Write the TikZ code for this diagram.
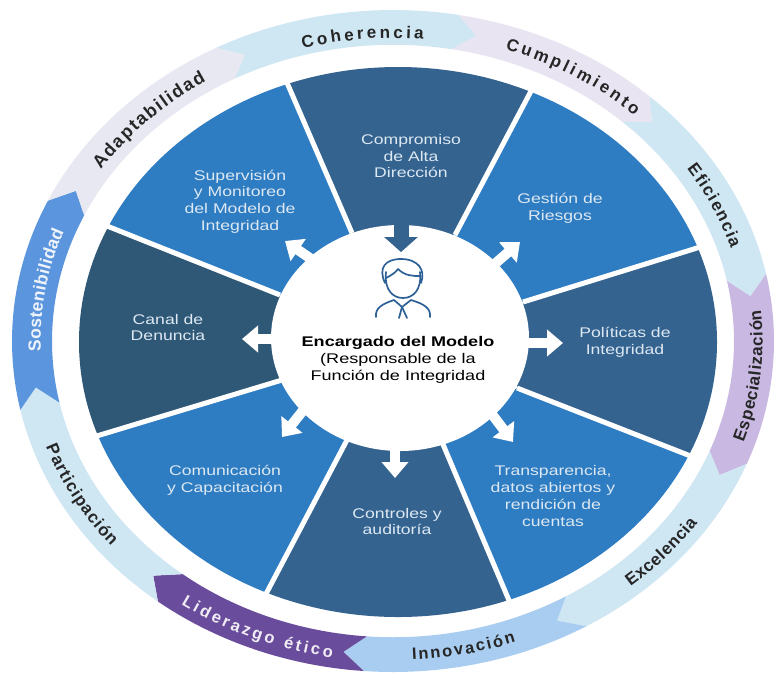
\documentclass[tikz,border=0pt]{standalone}
\usepackage{fontspec}
\setmainfont{Liberation Sans}
\usetikzlibrary{arrows.meta,decorations.text,calc}
\definecolor{secdark}{HTML}{35638F}
\definecolor{secmid}{HTML}{2E7CC2}
\definecolor{secdeep}{HTML}{2F5877}
\definecolor{sectxt}{HTML}{DCE8F2}
\definecolor{ringA}{HTML}{CFE6F3}
\definecolor{ringB}{HTML}{E8E4F2}
\definecolor{ringC}{HTML}{C9B9E2}
\definecolor{ringD}{HTML}{A9CDF1}
\definecolor{ringE}{HTML}{6A4C9C}
\definecolor{ringF}{HTML}{5B95DD}
\definecolor{ringG}{HTML}{E7E8F1}
\definecolor{iconc}{HTML}{2D6096}
\tikzset{
  sectext/.style={text=sectxt,align=center,font=\fontsize{14}{16.8}\selectfont,xscale=1.26,inner sep=0pt},
  blockarrow/.style={line width=10pt,white,-{Triangle[width=26pt,length=16pt]}},
  seam/.style={white,line width=5pt},
  iconline/.style={iconc,line width=1.7pt,line cap=round,line join=round},
}
% ring segment: tail angle (tip of the previous one), tip angle, colour
\newcommand{\ringseg}[3]{%
  \pgfmathsetmacro{\shoulder}{#2+3.5}
  \pgfmathsetmacro{\tailc}{#1+3.5}
  \fill[#3] plot[domain=\tailc:\shoulder,samples=40] ({393+381*cos(\x)},{341-331*sin(\x)})
    -- ({393+381*0.948*cos(#2)},{341-331*0.948*sin(#2)})
    -- plot[domain=\shoulder:\tailc,samples=40] ({393+381*0.895*cos(\x)},{341-331*0.895*sin(\x)})
    -- ({393+381*0.948*cos(#1)},{341-331*0.948*sin(#1)}) -- cycle;}
% curved label: start angle, end angle, radius factor, text, colour, size
\newcommand{\ringtext}[6]{%
  \path[decorate,decoration={text along path,text align={fit to path},
     text={|\fontsize{#6}{#6}\selectfont\bfseries\color{#5}|#4}}]
     plot[domain=#1:#2,samples=40] ({393+381*#3*cos(\x)},{341-331*#3*sin(\x)});}
\begin{document}
\begin{tikzpicture}[x=1pt,y=-1pt]
\useasboundingbox (0,0) rectangle (775,673);
\fill[white] (0,0) rectangle (775,673);
% outer ring
\ringseg{114.2}{76.6}{ringA}
\ringseg{76.6}{44.2}{ringB}
\ringseg{44.2}{8.2}{ringA}
\ringseg{8.2}{-25.3}{ringC}
\ringseg{-25.3}{-63}{ringA}
\ringseg{-63}{-97.9}{ringD}
\ringseg{-97.9}{-131.6}{ringE}
\ringseg{-131.6}{-171.5}{ringA}
\ringseg{188.5}{151.4}{ringF}
\ringseg{151.4}{114.2}{ringG}
\ringtext{105}{85}{0.915}{Coherencia}{black!85}{17}
\ringtext{71.5}{47}{0.93}{Cumplimiento}{black!85}{17}
\ringtext{34}{17.5}{0.93}{Eficiencia}{black!85}{17}
\ringtext{-18.4}{5.6}{0.97}{Especialización}{black!85}{17}
\ringtext{-50}{-34.5}{0.97}{Excelencia}{black!85}{17}
\ringtext{-87}{-70.5}{0.965}{Innovación}{black!85}{16.5}
\ringtext{-125}{-99.5}{0.97}{Liderazgo ético}{white!90!ringE}{16.5}
\ringtext{-160.7}{-140}{0.965}{Participación}{black!85}{17}
\ringtext{182}{159}{0.925}{Sostenibilidad}{white!90!ringF}{17.5}
\ringtext{146}{122}{0.925}{Adaptabilidad}{black!85}{18}
% separators: inner and outer ends
\coordinate (s1i) at (352,233); \coordinate (s1o) at (288,85);
\coordinate (s2i) at (455,235); \coordinate (s2o) at (530,93);
\coordinate (s3i) at (523,302); \coordinate (s3o) at (697,248);
\coordinate (s4i) at (517,388); \coordinate (s4o) at (688,455);
\coordinate (s5i) at (442,442); \coordinate (s5o) at (508,598);
\coordinate (s6i) at (347,440); \coordinate (s6o) at (267,592);
\coordinate (s7i) at (282,380); \coordinate (s7o) at (100,435);
\coordinate (s8i) at (280,295); \coordinate (s8o) at (112,228);
\foreach \k in {1,...,8} \coordinate (e\k) at ($(s\k i)!1.3!(s\k o)$);
% wheel sectors
\begin{scope}
\clip (398,342) ellipse [x radius=319,y radius=275];
\fill[secdark] (s1i) -- (e1) -- (400,-30) -- (e2) -- (s2i) -- cycle;
\fill[secmid] (s2i) -- (e2) -- (780,60) -- (e3) -- (s3i) -- cycle;
\fill[secdark] (s3i) -- (e3) -- (800,340) -- (e4) -- (s4i) -- cycle;
\fill[secmid] (s4i) -- (e4) -- (720,680) -- (e5) -- (s5i) -- cycle;
\fill[secdark] (s5i) -- (e5) -- (400,720) -- (e6) -- (s6i) -- cycle;
\fill[secmid] (s6i) -- (e6) -- (60,680) -- (e7) -- (s7i) -- cycle;
\fill[secdeep] (s7i) -- (e7) -- (0,340) -- (e8) -- (s8i) -- cycle;
\fill[secmid] (s8i) -- (e8) -- (60,20) -- (e1) -- (s1i) -- cycle;
\end{scope}
\foreach \k in {1,...,8} \draw[seam] (s\k i) -- ($(s\k i)!1.03!(s\k o)$);
% hub
\fill[white] (400,338) ellipse [x radius=129,y radius=113];
% arrows
\coordinate (a1a) at (401,222); \coordinate (a1b) at (401,252);
\coordinate (a2a) at (320,265); \coordinate (a2b) at (285,241);
\coordinate (a3a) at (490,268); \coordinate (a3b) at (520,242);
\coordinate (a4a) at (515,343); \coordinate (a4b) at (563,343);
\coordinate (a5a) at (485,405); \coordinate (a5b) at (513,442);
\coordinate (a6a) at (395,430); \coordinate (a6b) at (395,478);
\coordinate (a7a) at (305,408); \coordinate (a7b) at (282,437);
\coordinate (a8a) at (290,339); \coordinate (a8b) at (242,339);
\draw[line width=15pt,secdark,-{Triangle[width=33pt,length=15pt]}] (a1a) -- (a1b);
\foreach \k in {2,3,4,5,6,7,8} \draw[blockarrow] (a\k a) -- (a\k b);
% person icon
\draw[iconline] (385,283) .. controls (378,268) and (385,259) .. (401,259)
   .. controls (418,259) and (426,270) .. (421,283);
\draw[iconline] (386,278) .. controls (392,275) and (396,272) .. (398,269)
   .. controls (405,276) and (413,276) .. (420,276);
\draw[iconline] (386,272) .. controls (384,290) and (393,298) .. (403,298)
   .. controls (413,298) and (422,290) .. (420,272);
\draw[iconline] (376,317) .. controls (375,308) and (382,304) .. (394,300) -- (402,307) -- (411,300)
   .. controls (424,304) and (431,308) .. (430,317);
\draw[iconline] (402,307) -- (399,318);
\draw[iconline] (402,307) -- (407,318);
% texts
\node[inner sep=0pt,align=center,xscale=1.29,text=black,font=\fontsize{14}{17}\selectfont] (hub) at (398,360)
  {\textbf{Encargado del Modelo}\\(Responsable de la\\Función de Integridad};
\node[sectext] (t1) at (411,156) {Compromiso\\de Alta\\Dirección};
\node[sectext] (t2) at (560,208.5) {Gestión de\\Riesgos};
\node[sectext] (t3) at (625,342.5) {Políticas de\\Integridad};
\node[sectext] (t4) at (553,496) {Transparencia,\\datos abiertos y\\rendición de\\cuentas};
\node[sectext] (t5) at (397,521.5) {Controles y\\auditoría};
\node[sectext] (t6) at (225,480) {Comunicación\\y Capacitación};
\node[sectext] (t7) at (168,327.5) {Canal de\\Denuncia};
\node[sectext] (t8) at (240,201.5) {Supervisión\\y Monitoreo\\del Modelo de\\Integridad};
\end{tikzpicture}
\end{document}
